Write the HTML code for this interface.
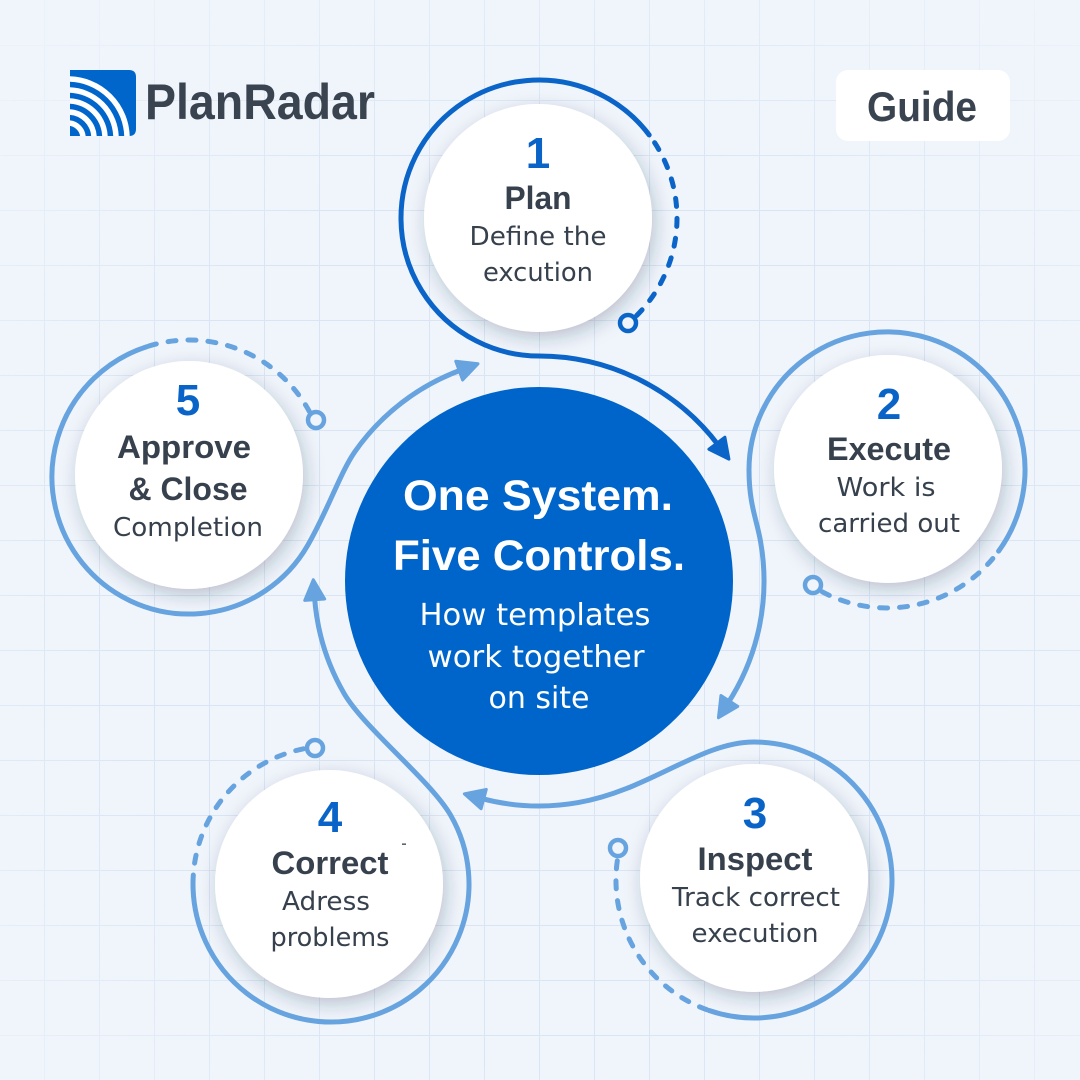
<!DOCTYPE html>
<html>
<head>
<meta charset="utf-8">
<style>
html,body{margin:0;padding:0;width:1080px;height:1080px;overflow:hidden;background:#F0F5FB}
svg{display:block}
.b{font-family:"Liberation Sans",Arial,sans-serif;font-weight:700;}
.r{font-family:"DejaVu Sans","Liberation Sans",sans-serif;font-weight:400;}
</style>
</head>
<body>
<svg width="1080" height="1080" viewBox="0 0 1080 1080" xmlns="http://www.w3.org/2000/svg">
  <defs>
    <pattern id="grid" x="44" y="45" width="55" height="55" patternUnits="userSpaceOnUse">
      <path d="M0,0 H55 M0,0 V55" stroke="#D9E5F5" stroke-width="2" fill="none"/>
    </pattern>
    <radialGradient id="fade" cx="560" cy="600" r="760" gradientUnits="userSpaceOnUse">
      <stop offset="0" stop-color="#fff" stop-opacity="1"/>
      <stop offset="0.6" stop-color="#fff" stop-opacity="1"/>
      <stop offset="1" stop-color="#fff" stop-opacity="0.2"/>
    </radialGradient>
    <mask id="gm"><rect width="1080" height="1080" fill="url(#fade)"/></mask>
    <filter id="sh" x="-30%" y="-30%" width="160%" height="160%">
      <feDropShadow dx="3" dy="6" stdDeviation="9" flood-color="#1c3050" flood-opacity="0.26"/>
    </filter>
    <marker id="ad" markerUnits="userSpaceOnUse" markerWidth="34" markerHeight="34" viewBox="-8 -17 34 34" refX="0" refY="0" orient="auto">
      <path d="M-3,-10 L17,0 L-3,10 Z" fill="#0B64C8" stroke="#0B64C8" stroke-width="3" stroke-linejoin="round"/>
    </marker>
    <marker id="al" markerUnits="userSpaceOnUse" markerWidth="34" markerHeight="34" viewBox="-8 -17 34 34" refX="0" refY="0" orient="auto">
      <path d="M-3,-10 L17,0 L-3,10 Z" fill="#66A3DF" stroke="#66A3DF" stroke-width="3" stroke-linejoin="round"/>
    </marker>
    <clipPath id="logoclip">
      <path d="M70,70 H129 Q136,70 136,77 V129 Q136,136 129,136 H70 Z"/>
    </clipPath>
  </defs>

  <!-- background -->
  <rect width="1080" height="1080" fill="#F0F5FB"/>
  <rect width="1080" height="1080" fill="url(#grid)" mask="url(#gm)"/>

  <!-- logo -->
  <g clip-path="url(#logoclip)">
    <rect x="70" y="70" width="66" height="66" fill="#0066CC"/>
    <g fill="none" stroke="#fff" stroke-width="5.5">
      <circle cx="68" cy="138" r="15"/>
      <circle cx="68" cy="138" r="26"/>
      <circle cx="68" cy="138" r="37"/>
      <circle cx="68" cy="138" r="48"/>
      <circle cx="68" cy="138" r="59"/>
    </g>
  </g>
  <text class="b" x="145" y="119" font-size="50" fill="#3A4350" textLength="230" lengthAdjust="spacingAndGlyphs">PlanRadar</text>

  <!-- guide badge -->
  <rect x="836" y="70" width="174" height="71" rx="12" fill="#ffffff"/>
  <text class="b" x="922" y="121" font-size="42" fill="#3A4350" text-anchor="middle" textLength="110" lengthAdjust="spacingAndGlyphs">Guide</text>

  <!-- center circle -->
  <circle cx="539" cy="581" r="194" fill="#0065CA"/>

  <!-- white node circles -->
  <g fill="#ffffff" filter="url(#sh)">
    <circle cx="538" cy="218" r="114"/>
    <circle cx="888" cy="469" r="114"/>
    <circle cx="754" cy="878" r="114"/>
    <circle cx="329" cy="884" r="114"/>
    <circle cx="189" cy="475" r="114"/>
  </g>

  <!-- Node 1 connectors (dark) -->
  <g fill="none" stroke="#0B64C8" stroke-width="5" stroke-linecap="round">
    <path d="M636.6,315.6 A138,138 0 0 0 649.2,134.95" stroke-dasharray="8 12"/>
    <path d="M649.2,134.95 A138,138 0 1 0 539,356 A225,225 0 0 1 718.7,445.6" marker-end="url(#ad)"/>
  </g>
  <circle cx="628" cy="323" r="8" fill="#F0F5FB" stroke="#0B64C8" stroke-width="4.5"/>

  <!-- Light connectors -->
  <g fill="none" stroke="#66A3DF" stroke-width="5" stroke-linecap="round">
    <!-- node 2 -->
    <path d="M822.2,591.8 A138,138 0 0 0 998.6,551.1" stroke-dasharray="8 12"/>
    <path d="M998.6,551.1 A138,138 0 1 0 749,470 C749,505 757,520 760.6,541.9 A225,225 0 0 1 727.7,703.5" marker-end="url(#al)"/>
    <!-- node 3 -->
    <path d="M617.3,860.8 A138,138 0 0 0 709.1,1010.5" stroke-dasharray="8 12"/>
    <path d="M709.1,1010.5 A138,138 0 1 0 754,742 C700,742 650,790 578.1,802.6 A225,225 0 0 1 480.8,798.3" marker-end="url(#al)"/>
    <!-- node 4 -->
    <path d="M303.5,748.8 A138,138 0 0 0 193,884" stroke-dasharray="8 12"/>
    <path d="M193,884 A138,138 0 1 0 450.5,815 C430.5,780.4 364.1,728.1 344.1,693.5 A225,225 0 0 1 314.5,596.7" marker-end="url(#al)"/>
    <!-- node 5 -->
    <path d="M309.4,411.6 A137,137 0 0 0 146.7,346.7" stroke-dasharray="8 12"/>
    <path d="M146.7,346.7 A137,137 0 1 0 307.6,545.5 C327.6,510.9 340.4,472.4 354.7,451.9 A225,225 0 0 1 462,369.6" marker-end="url(#al)"/>
  </g>
  <g fill="#F0F5FB" stroke="#66A3DF" stroke-width="4.5">
    <circle cx="813" cy="585" r="8"/>
    <circle cx="618" cy="848" r="8"/>
    <circle cx="315" cy="748" r="8"/>
    <circle cx="316" cy="420" r="8"/>
  </g>

  <!-- Node texts -->
  <!-- 1 -->
  <text class="b" x="538" y="168" font-size="44" fill="#0A64C8" text-anchor="middle">1</text>
  <text class="b" x="538" y="209" font-size="32" fill="#37414D" text-anchor="middle" textLength="67" lengthAdjust="spacingAndGlyphs">Plan</text>
  <text class="r" x="538" y="245" font-size="26" fill="#37414D" text-anchor="middle" textLength="137" lengthAdjust="spacingAndGlyphs">Define the</text>
  <text class="r" x="538" y="281" font-size="26" fill="#37414D" text-anchor="middle" textLength="110" lengthAdjust="spacingAndGlyphs">excution</text>

  <!-- 2 -->
  <text class="b" x="889" y="419" font-size="44" fill="#0A64C8" text-anchor="middle">2</text>
  <text class="b" x="889" y="460" font-size="32" fill="#37414D" text-anchor="middle" textLength="124" lengthAdjust="spacingAndGlyphs">Execute</text>
  <text class="r" x="886" y="496" font-size="26" fill="#37414D" text-anchor="middle" textLength="99" lengthAdjust="spacingAndGlyphs">Work is</text>
  <text class="r" x="889" y="532" font-size="26" fill="#37414D" text-anchor="middle" textLength="142" lengthAdjust="spacingAndGlyphs">carried out</text>

  <!-- 3 -->
  <text class="b" x="755" y="828" font-size="44" fill="#0A64C8" text-anchor="middle">3</text>
  <text class="b" x="755" y="870" font-size="32" fill="#37414D" text-anchor="middle" textLength="115" lengthAdjust="spacingAndGlyphs">Inspect</text>
  <text class="r" x="756" y="906" font-size="26" fill="#37414D" text-anchor="middle" textLength="168" lengthAdjust="spacingAndGlyphs">Track correct</text>
  <text class="r" x="755" y="942" font-size="26" fill="#37414D" text-anchor="middle" textLength="127" lengthAdjust="spacingAndGlyphs">execution</text>

  <!-- 4 -->
  <text class="b" x="330" y="832" font-size="44" fill="#0A64C8" text-anchor="middle">4</text>
  <text class="b" x="330" y="874" font-size="32" fill="#37414D" text-anchor="middle" textLength="117" lengthAdjust="spacingAndGlyphs">Correct</text>
  <text class="r" x="326" y="910" font-size="26" fill="#37414D" text-anchor="middle" textLength="88" lengthAdjust="spacingAndGlyphs">Adress</text>
  <text class="r" x="330" y="946" font-size="26" fill="#37414D" text-anchor="middle" textLength="119" lengthAdjust="spacingAndGlyphs">problems</text>
  <rect x="402" y="843.5" width="4" height="1.3" fill="#37414D"/>

  <!-- 5 -->
  <text class="b" x="188" y="415" font-size="44" fill="#0A64C8" text-anchor="middle">5</text>
  <text class="b" x="184" y="458" font-size="32" fill="#37414D" text-anchor="middle" textLength="134" lengthAdjust="spacingAndGlyphs">Approve</text>
  <text class="b" x="188" y="500" font-size="32" fill="#37414D" text-anchor="middle" textLength="119" lengthAdjust="spacingAndGlyphs">&amp; Close</text>
  <text class="r" x="188" y="536" font-size="26" fill="#37414D" text-anchor="middle" textLength="150" lengthAdjust="spacingAndGlyphs">Completion</text>

  <!-- center text -->
  <text class="b" x="538" y="510" font-size="43" fill="#ffffff" text-anchor="middle" textLength="270" lengthAdjust="spacingAndGlyphs">One System.</text>
  <text class="b" x="539" y="570" font-size="43" fill="#ffffff" text-anchor="middle" textLength="292" lengthAdjust="spacingAndGlyphs">Five Controls.</text>
  <text class="r" x="535" y="625" font-size="30" fill="#ffffff" text-anchor="middle" textLength="231" lengthAdjust="spacingAndGlyphs">How templates</text>
  <text class="r" x="536" y="667" font-size="30" fill="#ffffff" text-anchor="middle" textLength="217" lengthAdjust="spacingAndGlyphs">work together</text>
  <text class="r" x="539" y="708" font-size="30" fill="#ffffff" text-anchor="middle" textLength="101" lengthAdjust="spacingAndGlyphs">on site</text>
</svg>
</body>
</html>
